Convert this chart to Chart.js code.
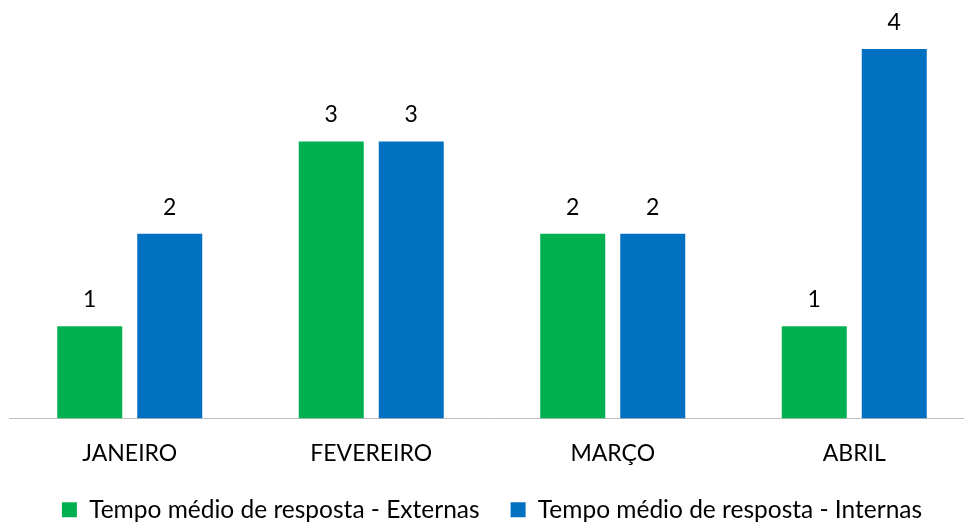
<!DOCTYPE html>
<html>
<head>
<meta charset="utf-8">
<script src="https://cdn.jsdelivr.net/npm/chart.js@4/dist/chart.umd.min.js"></script>
<style>
  html, body { margin: 0; padding: 0; background: #fff; overflow: hidden; }
  #wrap { position: relative; width: 976px; height: 532px; }
</style>
</head>
<body>
<div id="wrap"><canvas id="chart"></canvas></div>
<script>
// chart values
const months = ['JANEIRO', 'FEVEREIRO', 'MARÇO', 'ABRIL'];
const externas = [1, 3, 2, 1];
const internas = [2, 3, 2, 4];

// draws the value above each bar
const barLabels = {
  id: 'barLabels',
  afterDatasetsDraw(chart) {
    const ctx = chart.ctx;
    ctx.save();
    ctx.font = '23px Lato';
    ctx.fillStyle = '#000';
    ctx.textAlign = 'center';
    ctx.textBaseline = 'alphabetic';
    chart.data.datasets.forEach((ds, i) => {
      chart.getDatasetMeta(i).data.forEach((bar, j) => {
        ctx.fillText(ds.data[j], bar.x, bar.y - 19);
      });
    });
    ctx.restore();
  }
};

const data = {
  labels: months,
  datasets: [{
    label: 'Tempo médio de resposta - Externas',
    data: externas,
    backgroundColor: '#00B050'
  }, {
    label: 'Tempo médio de resposta - Internas',
    data: internas,
    backgroundColor: '#0070C0'
  }]
};

const config = {
  type: 'bar',
  data: data,
  plugins: [barLabels],
  options: {
    responsive: true,
    maintainAspectRatio: false,
    animation: false,
    datasets: {
      bar: { categoryPercentage: 0.6625, barPercentage: 0.8125 }
    },
    layout: { padding: { top: 49, left: 9, right: 1, bottom: 0 } },
    plugins: {
      legend: {
        position: 'bottom',
        labels: {
          boxWidth: 15,
          boxHeight: 15,
          padding: 31,
          color: '#000',
          font: { family: 'Lato', size: 24.5 }
        }
      },
      tooltip: { enabled: false }
    },
    scales: {
      x: {
        grid: { display: false },
        border: { color: '#bfbfbf', width: 1 },
        ticks: {
          color: '#000',
          padding: 13,
          font: { family: 'Lato', size: 23 }
        },
        // keep the legend close under the month labels
        afterFit(scale) { scale.height = 48; }
      },
      y: {
        display: false,
        min: 0,
        max: 4
      }
    }
  }
};

var chart = new Chart(document.getElementById('chart').getContext('2d'), config);
</script>
</body>
</html>
